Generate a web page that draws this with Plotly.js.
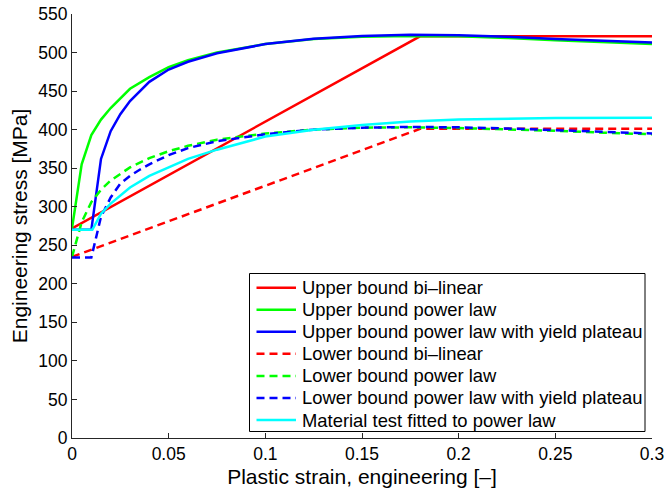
<!DOCTYPE html>
<html>
<head>
<meta charset="utf-8">
<script src="https://cdn.plot.ly/plotly-3.0.1.min.js"></script>
<style>html,body{margin:0;padding:0;background:#fff;}#chart{width:665px;height:490px;}</style>
</head>
<body>
<div id="chart"></div>
<script>
// Series names
const seriesNames = [
  "Upper bound bi\u2013linear",
  "Upper bound power law",
  "Upper bound power law with yield plateau",
  "Lower bound bi\u2013linear",
  "Lower bound power law",
  "Lower bound power law with yield plateau",
  "Material test fitted to power law"
];

// Upper bound bi-linear
const ubBiX = [0, 0.18, 0.3];
const ubBiY = [272, 521, 521];

// Upper bound power law
const ubPowX = [0, 0.005, 0.01, 0.015, 0.02, 0.025, 0.03, 0.04, 0.05, 0.06, 0.075, 0.1, 0.125, 0.15, 0.175, 0.2, 0.225, 0.25, 0.275, 0.3];
const ubPowY = [272, 355, 393, 413, 428, 440, 453, 468, 481, 490, 500, 511, 517.5, 520.5, 521.5, 521, 519, 516, 513.5, 511];

// Upper bound power law with yield plateau
const ubPlatX = [0, 0.01, 0.015, 0.02, 0.025, 0.03, 0.04, 0.05, 0.06, 0.075, 0.1, 0.125, 0.15, 0.175, 0.2, 0.225, 0.25, 0.275, 0.3];
const ubPlatY = [270, 270, 362, 398, 420, 437, 462, 478, 488, 499, 511, 518, 521.5, 523, 522.5, 520.5, 517.5, 515.5, 513];

// Lower bound bi-linear
const lbBiX = [0, 0.18, 0.3];
const lbBiY = [235, 401, 401];

// Lower bound power law
const lbPowX = [0, 0.005, 0.01, 0.015, 0.02, 0.03, 0.04, 0.05, 0.06, 0.075, 0.1, 0.125, 0.15, 0.175, 0.2, 0.225, 0.25, 0.275, 0.3];
const lbPowY = [235, 280, 306, 322, 334, 351, 363, 372, 379, 387, 395, 400, 402.5, 403, 402, 400.5, 398.5, 396, 394];

// Lower bound power law with yield plateau
const lbPlatX = [0, 0.01, 0.015, 0.02, 0.025, 0.03, 0.035, 0.04, 0.05, 0.06, 0.075, 0.1, 0.125, 0.15, 0.175, 0.2, 0.225, 0.25, 0.275, 0.3];
const lbPlatY = [234, 234, 287, 312, 330, 340, 348, 355, 367, 376, 385, 394, 400, 402.5, 403.5, 403, 401.5, 399.5, 397.5, 395];

// Material test fitted to power law
const testX = [0, 0.0105, 0.015, 0.02, 0.03, 0.04, 0.05, 0.06, 0.075, 0.1, 0.125, 0.15, 0.175, 0.2, 0.25, 0.3];
const testY = [270, 270, 291, 304, 325, 340, 351, 362, 374, 391, 400, 406, 410.5, 413, 415, 415.5];

const xTicks = [0, 0.05, 0.1, 0.15, 0.2, 0.25, 0.3];
const xTickText = ["0", "0.05", "0.1", "0.15", "0.2", "0.25", "0.3"];
const yTicks = [0, 50, 100, 150, 200, 250, 300, 350, 400, 450, 500, 550];

const LW = 2.5;
const DASH = "8px,5px";
const styles = [
  {color: "#ff0000", dash: "solid"},
  {color: "#00ff00", dash: "solid"},
  {color: "#0000ff", dash: "solid"},
  {color: "#ff0000", dash: DASH},
  {color: "#00ff00", dash: DASH},
  {color: "#0000ff", dash: DASH},
  {color: "#00ffff", dash: "solid"}
];
const xs = [ubBiX, ubPowX, ubPlatX, lbBiX, lbPowX, lbPlatX, testX];
const ys = [ubBiY, ubPowY, ubPlatY, lbBiY, lbPowY, lbPlatY, testY];

const traces = xs.map((x, i) => ({
  x: x, y: ys[i], name: seriesNames[i], type: "scatter", mode: "lines",
  line: {color: styles[i].color, width: LW, dash: styles[i].dash},
  showlegend: false
}));

// Legend box (MATLAB-like, tight row spacing) built from the names/styles above
const W = 665, H = 490, ML = 72, MR = 13, MT = 14, MB = 52;
const PW = W - ML - MR, PH = H - MT - MB;
const px = v => (v - ML) / PW;
const py = v => (H - MB - v) / PH;
const legBox = {x0: 249.5, x1: 645, y0: 273.5, y1: 431.5};
const rowY0 = 287.7, rowStep = 22.05;
const sampleX0 = 256.5, sampleX1 = 296, textX = 300;

const fontFam = "Liberation Sans, Arial, Helvetica, sans-serif";
const shapes = [{
  type: "rect", xref: "paper", yref: "paper",
  x0: px(legBox.x0), x1: px(legBox.x1), y0: py(legBox.y1), y1: py(legBox.y0),
  line: {color: "#000000", width: 1}, fillcolor: "#ffffff", layer: "above"
}];
const annotations = [];
seriesNames.forEach((name, i) => {
  const yy = py(rowY0 + i * rowStep);
  shapes.push({
    type: "line", xref: "paper", yref: "paper",
    x0: px(sampleX0), x1: px(sampleX1), y0: yy, y1: yy,
    line: {color: styles[i].color, width: LW, dash: styles[i].dash}, layer: "above"
  });
  annotations.push({
    xref: "paper", yref: "paper", x: px(textX), y: yy,
    xanchor: "left", yanchor: "middle", showarrow: false,
    text: name, font: {family: fontFam, size: 18.4, color: "#000000"}
  });
});

const layout = {
  width: W, height: H,
  margin: {l: ML, r: MR, t: MT, b: MB},
  paper_bgcolor: "#ffffff", plot_bgcolor: "#ffffff",
  font: {family: fontFam, color: "#000000", size: 17.5},
  showlegend: false,
  shapes: shapes,
  annotations: annotations,
  xaxis: {
    range: [0, 0.3], tickmode: "array", tickvals: xTicks, ticktext: xTickText,
    ticks: "inside", ticklen: 5, tickcolor: "#262626", tickwidth: 1,
    showline: true, linecolor: "#262626", linewidth: 1, mirror: false,
    showgrid: false, zeroline: false,
    tickfont: {family: fontFam, size: 17.5, color: "#000000"},
    title: {text: "Plastic strain, engineering [\u2013]", font: {family: fontFam, size: 21, color: "#000000"}, standoff: 6}
  },
  yaxis: {
    range: [0, 550], tickmode: "array", tickvals: yTicks,
    ticks: "inside", ticklen: 5, tickcolor: "#262626", tickwidth: 1,
    showline: true, linecolor: "#262626", linewidth: 1, mirror: false,
    showgrid: false, zeroline: false,
    tickfont: {family: fontFam, size: 17.5, color: "#000000"},
    title: {text: "Engineering stress [MPa]", font: {family: fontFam, size: 21, color: "#000000"}, standoff: 4}
  }
};

Plotly.newPlot("chart", traces, layout, {displayModeBar: false, staticPlot: true});
</script>
</body>
</html>
